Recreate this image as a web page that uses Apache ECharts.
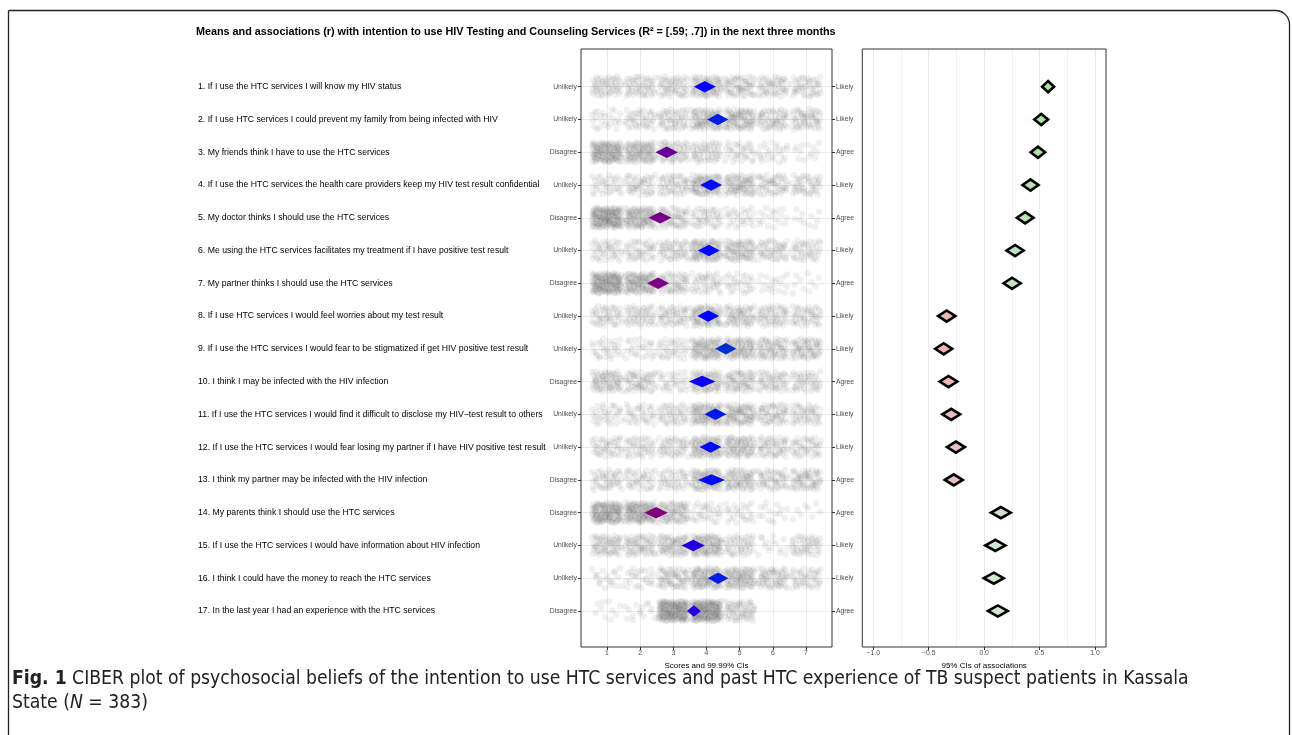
<!DOCTYPE html>
<html>
<head>
<meta charset="utf-8">
<title>CIBER plot – intention to use HTC services</title>
<script src="https://cdn.jsdelivr.net/npm/echarts@6/dist/echarts.min.js"></script>
<style>
  html, body { margin: 0; padding: 0; background: #ffffff; }
  #chart { width: 1292px; height: 735px; }
</style>
</head>
<body>
<div id="chart"></div>
<script>
// ---- Determinants (rows, top to bottom) ----
const items = [
  '1. If I use the HTC services I will know my HIV status',
  '2. If I use HTC services I could prevent my family from being infected with HIV',
  '3. My friends think I have to use the HTC services',
  '4. If I use the HTC services the health care providers keep my HIV test result confidential',
  '5. My doctor thinks I should use the HTC services',
  '6. Me using the HTC services facilitates my treatment if I have positive test result',
  '7. My partner thinks I should use the HTC services',
  '8. If I use HTC services I would feel worries about my test result',
  '9. If I use the HTC services I would fear to be stigmatized if get HIV positive test result',
  '10. I think I may be infected with the HIV infection',
  '11. If I use the HTC services I would find it difficult to disclose my HIV\u2212test result to others',
  '12. If I use the HTC services I would fear losing my partner if I have HIV positive test result',
  '13. I think my partner may be infected with the HIV infection',
  '14. My parents think I should use the HTC services',
  '15. If I use the HTC services I would have information about HIV infection',
  '16. I think I could have the money to reach the HTC services',
  '17. In the last year I had an experience with the HTC services'
];
const lowAnchors = ['Unlikely','Unlikely','Disagree','Unlikely','Disagree','Unlikely','Disagree','Unlikely','Unlikely',
  'Disagree','Unlikely','Unlikely','Disagree','Disagree','Unlikely','Unlikely','Disagree'];
const highAnchors = ['Likely','Likely','Agree','Likely','Agree','Likely','Agree','Likely','Likely',
  'Agree','Likely','Likely','Agree','Agree','Likely','Likely','Agree'];

// ---- Response counts per scale point 1..7 for each determinant ----
const responseCounts = [
  [52, 52, 52, 75, 58, 50, 44],
  [25, 40, 50, 80, 80, 55, 53],
  [115, 90, 55, 50, 35, 25, 13],
  [35, 45, 50, 85, 75, 50, 43],
  [135, 95, 55, 42, 28, 18, 10],
  [42, 42, 48, 90, 72, 48, 41],
  [132, 100, 55, 40, 28, 18, 10],
  [45, 48, 50, 80, 62, 52, 46],
  [30, 25, 35, 85, 80, 65, 63],
  [68, 55, 32, 70, 63, 50, 45],
  [32, 35, 45, 90, 80, 55, 46],
  [42, 42, 45, 85, 75, 52, 42],
  [45, 40, 40, 80, 70, 50, 58],
  [120, 110, 75, 30, 25, 15, 8],
  [60, 60, 68, 90, 45, 15, 45],
  [20, 25, 60, 90, 85, 60, 43],
  [10, 15, 150, 150, 58, 0, 0]
];

// ---- Means with 99.99% confidence intervals ----
const means  = [3.95, 4.34, 2.80, 4.14, 2.60, 4.07, 2.54, 4.05, 4.58, 3.87, 4.27, 4.12, 4.15, 2.48, 3.60, 4.35, 3.62];
const meanLo = [3.62, 4.02, 2.46, 3.81, 2.25, 3.74, 2.21, 3.72, 4.26, 3.47, 3.94, 3.79, 3.74, 2.13, 3.25, 4.04, 3.41];
const meanHi = [4.28, 4.66, 3.14, 4.47, 2.95, 4.40, 2.87, 4.38, 4.90, 4.27, 4.60, 4.45, 4.56, 2.83, 3.95, 4.66, 3.83];

// ---- Associations (r) with intention, 95% confidence intervals ----
const corr   = [0.577, 0.515, 0.485, 0.418, 0.370, 0.279, 0.252, -0.338, -0.365, -0.322, -0.297, -0.255, -0.274, 0.151, 0.101, 0.087, 0.124];
const corrLo = [0.523, 0.453, 0.420, 0.346, 0.295, 0.202, 0.175, -0.416, -0.442, -0.402, -0.378, -0.336, -0.355, 0.062, 0.011, -0.003, 0.035];
const corrHi = [0.631, 0.577, 0.550, 0.490, 0.445, 0.356, 0.329, -0.260, -0.288, -0.242, -0.216, -0.174, -0.193, 0.240, 0.191, 0.177, 0.213];

const scaleTicks = [1, 2, 3, 4, 5, 6, 7];

// ---- Helpers ----
// Low-discrepancy sequence used to spread the individual responses within their cell
function halton(i, b) {
  let f = 1, r = 0;
  while (i > 0) { f /= b; r += f * (i % b); i = Math.floor(i / b); }
  return r;
}
function mix(a, b, t) {
  return [0, 1, 2].map(k => Math.max(0, Math.min(255, Math.round(a[k] + (b[k] - a[k]) * t))));
}
function rgb(c) { return 'rgb(' + c.join(',') + ')'; }
// Mean colour: red (1) -> blue (4) -> green (7)
function meanColor(m) {
  if (m <= 4) return rgb(mix([255, 0, 0], [0, 0, 255], (m - 1) / 3));
  return rgb(mix([0, 0, 255], [0, 255, 0], (m - 4) / 3));
}
// Association colour: pink for negative, pale to light green for positive
function corrColor(r) {
  const neutral = [219, 228, 219];
  if (r >= 0) return rgb(mix(neutral, [128, 226, 117], r));
  return rgb(mix(neutral, [262, 95, 116], -r));
}

// Individual responses
const points = [];
let idx = 1;
responseCounts.forEach((counts, ri) => {
  counts.forEach((n, si) => {
    for (let k = 0; k < n; k++, idx++) {
      points.push([si + 1 + (halton(idx, 2) - 0.5) * 0.9, ri + 1 + (halton(idx, 3) - 0.5) * 0.62]);
    }
  });
});

const meanData = means.map((m, i) => [i + 1, m, meanLo[i], meanHi[i]]);
const corrData = corr.map((r, i) => [i + 1, r, corrLo[i], corrHi[i]]);

function diamond(halfH, styleFn) {
  return function (params, api) {
    const y = api.value(0), c = api.value(1), lo = api.value(2), hi = api.value(3);
    const pts = [api.coord([lo, y]), api.coord([c, y - halfH]), api.coord([hi, y]), api.coord([c, y + halfH])];
    return { type: 'polygon', shape: { points: pts }, style: styleFn(c) };
  };
}

const FONT = '"Liberation Sans", Arial, Helvetica, sans-serif';
const CAPTION_FONT = '"Liberation Sans Narrow", "DejaVu Sans Condensed", sans-serif';
const GRID_LINE = '#ebebeb';
const DARK = '#333333';
const TICK_TXT = '#4d4d4d';
const Y_MIN = -0.15, Y_MAX = 18.1;

const chart = echarts.init(document.getElementById('chart'), null, { renderer: 'canvas' });
chart.setOption({
  animation: false,
  backgroundColor: '#ffffff',
  textStyle: { fontFamily: FONT },
  title: {
    text: 'Means and associations (r) with intention to use HIV Testing and Counseling Services (R\u00b2 = [.59; .7]) in the next three months',
    left: 191, top: 22,
    textStyle: { fontSize: 10.8, fontWeight: 'bold', color: '#000', fontFamily: FONT }
  },
  grid: [
    { left: 581, top: 49, width: 251, height: 598, show: true, borderColor: DARK, borderWidth: 1, backgroundColor: 'transparent', z: 5 },
    { left: 590.4, top: 49, width: 232.2, height: 598 },
    { left: 581, top: 86.7, width: 251, height: 524.3 },
    { left: 862.3, top: 49, width: 243.7, height: 598, show: true, borderColor: DARK, borderWidth: 1, backgroundColor: 'transparent', z: 5 },
    { left: 873.3, top: 49, width: 221.7, height: 598 }
  ],
  xAxis: [
    { gridIndex: 0, type: 'value', show: false },
    {
      gridIndex: 1, type: 'value', min: 0.5, max: 7.5, interval: 0.5, position: 'bottom',
      axisLine: { show: false, onZero: false },
      axisTick: { show: true, length: 3, customValues: scaleTicks, lineStyle: { color: DARK } },
      axisLabel: { customValues: scaleTicks, fontSize: 6.8, color: TICK_TXT, margin: 3 },
      splitLine: { show: true, lineStyle: { color: GRID_LINE, width: 1 } },
      name: 'Scores and 99.99% CIs', nameLocation: 'middle', nameGap: 11,
      nameTextStyle: { fontSize: 8, color: '#000' }
    },
    { gridIndex: 2, type: 'value', show: false },
    { gridIndex: 3, type: 'value', show: false },
    {
      gridIndex: 4, type: 'value', min: -1, max: 1, interval: 0.5, position: 'bottom',
      axisLine: { show: false, onZero: false },
      axisTick: { show: true, length: 3, lineStyle: { color: DARK } },
      axisLabel: {
        fontSize: 6.8, color: TICK_TXT, margin: 3,
        formatter: v => (v < 0 ? '\u2212' : '') + Math.abs(v).toFixed(1)
      },
      splitLine: { show: true, lineStyle: { color: GRID_LINE, width: 1 } },
      minorTick: { show: false, splitNumber: 2 },
      minorSplitLine: { show: true, lineStyle: { color: '#f1f1f1', width: 1 } },
      name: '95% CIs of associations', nameLocation: 'middle', nameGap: 11,
      nameTextStyle: { fontSize: 8, color: '#000' }
    }
  ],
  yAxis: [
    { gridIndex: 0, type: 'value', show: false },
    { gridIndex: 1, type: 'value', min: Y_MIN, max: Y_MAX, inverse: true, show: false },
    {
      gridIndex: 2, type: 'category', data: lowAnchors, inverse: true, boundaryGap: false, position: 'left',
      axisLine: { show: false, onZero: false },
      axisTick: { show: true, length: 3, lineStyle: { color: DARK } },
      axisLabel: { interval: 0, fontSize: 6.8, color: TICK_TXT, margin: 4 },
      splitLine: { show: true, lineStyle: { color: GRID_LINE, width: 1 } }
    },
    {
      gridIndex: 2, type: 'category', data: items, inverse: true, boundaryGap: false, position: 'left',
      axisLine: { show: false, onZero: false }, axisTick: { show: false },
      axisLabel: { interval: 0, align: 'left', margin: 383, fontSize: 8.7, color: '#000' },
      splitLine: { show: false }
    },
    {
      gridIndex: 2, type: 'category', data: highAnchors, inverse: true, boundaryGap: false, position: 'right',
      axisLine: { show: false, onZero: false },
      axisTick: { show: true, length: 3, lineStyle: { color: DARK } },
      axisLabel: { interval: 0, fontSize: 6.8, color: TICK_TXT, margin: 4 },
      splitLine: { show: false }
    },
    { gridIndex: 3, type: 'value', show: false },
    { gridIndex: 4, type: 'value', min: Y_MIN, max: Y_MAX, inverse: true, show: false }
  ],
  series: [
    {
      type: 'scatter', xAxisIndex: 1, yAxisIndex: 1, data: points,
      symbol: 'circle', symbolSize: 6.5, silent: true, clip: false,
      itemStyle: { color: 'rgba(0,0,0,0.075)' }, z: 2
    },
    {
      type: 'custom', xAxisIndex: 1, yAxisIndex: 1, data: meanData, clip: false, silent: true, z: 3,
      encode: { x: [1, 2, 3], y: 0 },
      renderItem: diamond(0.175, m => ({ fill: meanColor(m), stroke: null }))
    },
    {
      type: 'custom', xAxisIndex: 4, yAxisIndex: 6, data: corrData, clip: false, silent: true, z: 3,
      encode: { x: [1, 2, 3], y: 0 },
      renderItem: diamond(0.17, r => ({ fill: corrColor(r), stroke: '#000', lineWidth: 2.6, lineJoin: 'miter' }))
    }
  ],
  graphic: [
    {
      type: 'rect', silent: true, z: 100,
      shape: { x: 8.5, y: 10.5, width: 1281, height: 760, r: [0, 14, 0, 0] },
      style: { fill: null, stroke: '#222', lineWidth: 1.3 }
    },
    {
      type: 'text', left: 12, top: 667, silent: true, z: 100,
      style: {
        text: '{b|Fig. 1} CIBER plot of psychosocial beliefs of the intention to use HTC services and past HTC experience of TB suspect patients in Kassala\nState ({i|N} = 383)',
        font: '19.2px ' + CAPTION_FONT,
        fill: '#222', lineHeight: 24,
        rich: {
          b: { fontWeight: 'bold', fontSize: 19.2, fontFamily: CAPTION_FONT, fill: '#222', lineHeight: 24 },
          i: { fontStyle: 'italic', fontSize: 19.2, fontFamily: CAPTION_FONT, fill: '#222', lineHeight: 24 }
        }
      }
    }
  ]
});
</script>
</body>
</html>
